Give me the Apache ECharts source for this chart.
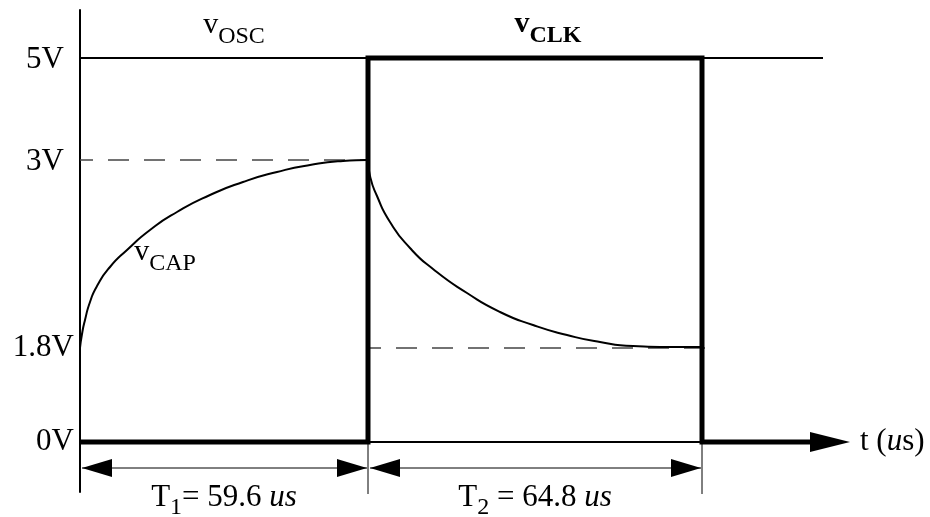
<!DOCTYPE html>
<html><head><meta charset="utf-8">
<script src="https://cdn.jsdelivr.net/npm/echarts@6/dist/echarts.min.js"></script>
<style>html,body{margin:0;padding:0;background:#fff}#c{width:930px;height:517px}</style>
</head><body><div id="c"></div>
<script>
// Schematic timing diagram: x = position along the time axis, y = drawn voltage level (diagram units)
const levelLabels = ['0V', '1.8V', '3V', '5V'];
const levelY = [0, 94, 282, 384];
const edgeX = [0, 288, 622];                 // t = 0, end of T1, end of T2
const periodSubs = ['1', '2'];
const periodTexts = ['= 59.6 ', ' = 64.8 '];
const clkX = [0, 288, 288, 622, 622, 730];
const clkY = [0, 0, 384, 384, 0, 0];
const oscX = [0, 743];                       // 5V reference line (vOSC)
const capChargeX = [0, 2, 5, 10, 17, 30, 47, 70, 97, 130, 163, 197, 230, 263, 287];
const capChargeY = [94, 108, 122, 140, 156, 175, 192, 212, 230, 247, 260, 270, 277, 281, 282];
const capDischargeX = [288, 290, 297, 310, 330, 353, 387, 420, 453, 487, 520, 553, 587, 620];
const capDischargeY = [280, 266, 246, 220, 194, 173, 149, 130, 117, 107, 100, 96, 95, 95];
const dash3VX = [0, 288];
const dash18VX = [288, 625];
const signalNames = ['OSC', 'CLK', 'CAP'];
const signalBold = [0, 1, 0];
const signalX = [154, 468, 85];
const signalY = [417, 418, 190];

const serif = "'Liberation Serif','Times New Roman',serif";
const BLACK = '#000';
const zip = (xs, ys) => xs.map((x, i) => [x, ys[i]]);

const vRich = {
  v: { fontFamily: serif, fontSize: 30, lineHeight: 32, fill: BLACK },
  s: { fontFamily: serif, fontSize: 24, lineHeight: 32, padding: [24, 0, 0, 0], fill: BLACK },
  vb: { fontFamily: serif, fontSize: 30, fontWeight: 'bold', lineHeight: 32, fill: BLACK },
  sb: { fontFamily: serif, fontSize: 24, fontWeight: 'bold', lineHeight: 32, padding: [24, 0, 0, 0], fill: BLACK }
};
const tRich = {
  n: { fontFamily: serif, fontSize: 31, lineHeight: 32, fill: BLACK },
  i: { fontFamily: serif, fontSize: 31, fontStyle: 'italic', lineHeight: 32, fill: BLACK },
  s: { fontFamily: serif, fontSize: 24, lineHeight: 32, padding: [20, 0, 0, 0], fill: BLACK }
};
const nameRich = {
  n: { fontFamily: serif, fontSize: 31, color: BLACK },
  i: { fontFamily: serif, fontSize: 31, fontStyle: 'italic', color: BLACK }
};

const dimData = periodSubs.map((s, i) => [edgeX[i], edgeX[i + 1], i]);
const sigData = signalNames.map((n, i) => [signalX[i], signalY[i], i]);

const chart = echarts.init(document.getElementById('c'), null, { renderer: 'canvas' });
const option = {
  animation: false,
  backgroundColor: '#fff',
  grid: { left: 80, right: 100, top: 10, bottom: 25, containLabel: false, outerBoundsMode: 'none' },
  xAxis: {
    type: 'value', min: 0, max: 750,
    axisLine: { onZero: true, symbol: ['none', 'triangle'], symbolSize: [20, 40], lineStyle: { color: BLACK, width: 2 } },
    axisTick: { show: false }, axisLabel: { show: false }, splitLine: { show: false },
    name: '{n|t (}{i|u}{n|s)}', nameLocation: 'end', nameGap: 30,
    nameTextStyle: { rich: nameRich, align: 'left', verticalAlign: 'middle' }
  },
  yAxis: {
    type: 'value', min: -50, max: 432,
    axisLine: { lineStyle: { color: BLACK, width: 2 } },
    axisTick: { show: false }, splitLine: { show: false },
    axisLabel: {
      customValues: levelY, margin: 6,
      formatter: (v) => { const i = levelY.indexOf(v); return '{' + (i >= 2 ? 'hi' : 'lo') + '|' + levelLabels[i] + '}'; },
      rich: {
        lo: { fontFamily: serif, fontSize: 31, color: BLACK },
        hi: { fontFamily: serif, fontSize: 31, color: BLACK, padding: [4, 10, 0, 0] }
      }
    }
  },
  series: [
    { type: 'line', data: zip(dash3VX, [levelY[2], levelY[2]]), symbol: 'none', z: 1,
      lineStyle: { color: '#444', width: 1.5, type: [21, 15], dashOffset: 8 } },
    { type: 'line', data: zip(dash18VX, [levelY[1], levelY[1]]), symbol: 'none', z: 1,
      lineStyle: { color: '#444', width: 1.5, type: [21, 15], dashOffset: 8 } },
    { type: 'line', data: zip(oscX, [levelY[3], levelY[3]]), symbol: 'none', z: 2,
      lineStyle: { color: BLACK, width: 2 } },
    { type: 'line', data: zip(capChargeX, capChargeY), symbol: 'none', smooth: 0.6, z: 3,
      lineStyle: { color: BLACK, width: 2 } },
    { type: 'line', data: zip(capDischargeX, capDischargeY), symbol: 'none', smooth: 0.6, z: 3,
      lineStyle: { color: BLACK, width: 2 } },
    { type: 'line', data: zip(clkX, clkY), symbol: 'none', z: 4,
      lineStyle: { color: BLACK, width: 5, join: 'miter' } },
    { type: 'custom', data: dimData, z: 5, clip: false,
      renderItem: (params, api) => {
        const x0 = api.value(0), x1 = api.value(1), k = api.value(2);
        const a = api.coord([x0, -26]), b = api.coord([x1, -26]);
        const t0 = api.coord([x1, 0]), t1 = api.coord([x1, -52]);
        const lab = api.coord([(x0 + x1) / 2, -56]);
        const L = 30, H = 9, ax = a[0] + 2, bx = b[0] - 1;
        return { type: 'group', children: [
          { type: 'line', shape: { x1: ax, y1: a[1], x2: bx, y2: b[1] }, style: { stroke: BLACK, lineWidth: 1 } },
          { type: 'polygon', shape: { points: [[ax, a[1]], [ax + L, a[1] - H], [ax + L, a[1] + H]] }, style: { fill: BLACK } },
          { type: 'polygon', shape: { points: [[bx, b[1]], [bx - L, b[1] - H], [bx - L, b[1] + H]] }, style: { fill: BLACK } },
          { type: 'line', shape: { x1: t0[0], y1: t0[1], x2: t1[0], y2: t1[1] }, style: { stroke: BLACK, lineWidth: 1 } },
          { type: 'text', style: { x: lab[0], y: lab[1], align: 'center', verticalAlign: 'middle',
              text: '{n|T}{s|' + periodSubs[k] + '}{n|' + periodTexts[k] + '}{i|us}', rich: tRich } }
        ] };
      } },
    { type: 'custom', data: sigData, z: 6, clip: false,
      renderItem: (params, api) => {
        const p = api.coord([api.value(0), api.value(1)]);
        const k = api.value(2);
        const b = signalBold[k] ? 'b' : '';
        return { type: 'text', style: { x: p[0], y: p[1], align: 'center', verticalAlign: 'middle',
          text: '{v' + b + '|v}{s' + b + '|' + signalNames[k] + '}', rich: vRich } };
      } }
  ]
};
chart.setOption(option);
</script></body></html>
